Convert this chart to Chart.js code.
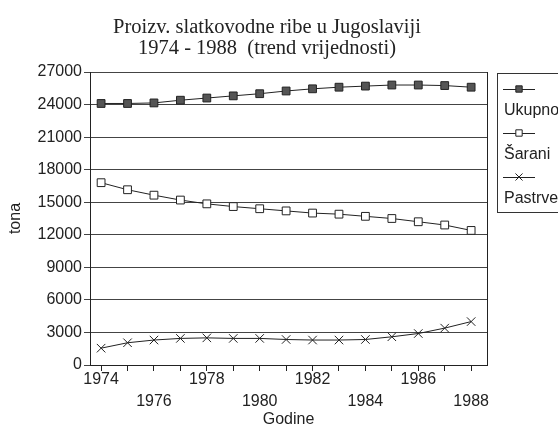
<!DOCTYPE html>
<html>
<head>
<meta charset="utf-8">
<script src="https://cdn.jsdelivr.net/npm/chart.js@4.4.0/dist/chart.umd.min.js"></script>
<style>
  html, body { margin: 0; padding: 0; background: #fff; }
  #wrap { width: 558px; height: 428px; }
</style>
</head>
<body>
<div id="wrap"><canvas id="fishChart" width="558" height="428"></canvas></div>
<script>
// years along the x axis
const years = [1974, 1975, 1976, 1977, 1978, 1979, 1980, 1981, 1982, 1983, 1984, 1985, 1986, 1987, 1988];

// production in tonnes
const ukupno  = [24100, 24100, 24150, 24400, 24600, 24800, 25000, 25250, 25450, 25600, 25700, 25800, 25800, 25750, 25600];
const sarani  = [16800, 16150, 15650, 15200, 14850, 14600, 14400, 14200, 14000, 13900, 13700, 13500, 13200, 12900, 12400];
const pastrve = [1550, 2050, 2300, 2450, 2500, 2450, 2450, 2350, 2300, 2300, 2350, 2600, 2900, 3400, 4000];

const seriesNames = ['Ukupno', 'Šarani', 'Pastrve'];
const yTicks = [0, 3000, 6000, 9000, 12000, 15000, 18000, 21000, 24000, 27000];
const titleLines = ['Proizv. slatkovodne ribe u Jugoslaviji', '1974 - 1988  (trend vrijednosti)'];

const SANS = '"Liberation Sans", Arial, sans-serif';
const INK = '#222';

const toPoints = function (values) {
  return years.map((yr, i) => ({ x: yr, y: values[i] }));
};

/**
 * Two line serif heading, a bit left of the plot centre like the scan.
 * */
const headingPlugin = {
  id: 'heading',
  afterDraw(chart) {
    const ctx = chart.ctx;
    ctx.save();
    ctx.font = '20.5px "Liberation Serif", "Times New Roman", serif';
    ctx.fillStyle = INK;
    ctx.textAlign = 'center';
    ctx.textBaseline = 'alphabetic';
    titleLines.forEach((line, i) => ctx.fillText(line, 267, 33 + i * 21));
    ctx.restore();
  }
};

/**
 * Right side of the plot frame (top comes from the 27000 grid line).
 * */
const framePlugin = {
  id: 'frame',
  afterDraw(chart) {
    const { ctx, chartArea } = chart;
    ctx.save();
    ctx.strokeStyle = INK;
    ctx.lineWidth = 1;
    ctx.beginPath();
    ctx.moveTo(chartArea.right + 0.5, chartArea.top);
    ctx.lineTo(chartArea.right + 0.5, chartArea.bottom);
    ctx.stroke();
    ctx.restore();
  }
};

/**
 * Boxed legend with the sample line above each label.
 * */
const stackedLegendPlugin = {
  id: 'stackedLegend',
  afterDraw(chart) {
    const ctx = chart.ctx;
    const left = chart.chartArea.right + 10;
    const top = chart.chartArea.top + 1;
    ctx.save();
    ctx.strokeStyle = '#333';
    ctx.lineWidth = 1;
    ctx.strokeRect(left + 0.5, top + 0.5, 90, 139);

    chart.data.datasets.forEach((ds, i) => {
      const my = top + 16 + i * 44;
      ctx.strokeStyle = ds.borderColor;
      ctx.lineWidth = 1;
      ctx.beginPath();
      ctx.moveTo(left + 6, my + 0.5);
      ctx.lineTo(left + 38, my + 0.5);
      ctx.stroke();

      ctx.fillStyle = ds.pointBackgroundColor;
      ctx.strokeStyle = ds.pointBorderColor;
      ctx.lineWidth = ds.pointBorderWidth;
      Chart.helpers.drawPoint(ctx, {
        pointStyle: ds.pointStyle,
        rotation: 0,
        radius: ds.pointRadius - 1,
        borderWidth: ds.pointBorderWidth
      }, left + 22, my);

      ctx.fillStyle = INK;
      ctx.font = '16px ' + SANS;
      ctx.textAlign = 'left';
      ctx.textBaseline = 'middle';
      ctx.fillText(ds.label, left + 7, my + 22);
    });
    ctx.restore();
  }
};

const makeDataset = function (label, values, style, fill, radius) {
  return {
    label: label,
    data: toPoints(values),
    borderColor: INK,
    borderWidth: 1,
    tension: 0,
    pointStyle: style,
    pointRadius: radius,
    pointBackgroundColor: fill,
    pointBorderColor: INK,
    pointBorderWidth: 1
  };
};

const fishChart = new Chart(document.getElementById('fishChart'), {
  type: 'line',
  data: {
    datasets: [
      makeDataset(seriesNames[0], ukupno, 'rect', '#555', 5.5),
      makeDataset(seriesNames[1], sarani, 'rect', '#fff', 5.5),
      makeDataset(seriesNames[2], pastrve, 'crossRot', '#fff', 6)
    ]
  },
  options: {
    responsive: false,
    animation: false,
    devicePixelRatio: 1,
    layout: { padding: { top: 72, right: 71, bottom: 0, left: 0 } },
    plugins: {
      legend: { display: false },
      title: { display: false },
      tooltip: { enabled: false }
    },
    scales: {
      x: {
        type: 'linear',
        min: years[0] - 0.42,
        max: years[years.length - 1] + 0.6,
        afterBuildTicks: (scale) => {
          scale.ticks = years.map(v => ({ value: v }));
        },
        afterFit: (scale) => { scale.height = 63; },
        ticks: {
          autoSkip: false,
          maxRotation: 0,
          padding: -2,
          color: INK,
          font: { family: SANS, size: 16, lineHeight: 1.375 },
          callback: (value) => {
            const step = value - years[0];
            if (step % 4 === 0) return [String(value)];
            if (step % 2 === 0) return ['', String(value)];
            return '';
          }
        },
        grid: {
          drawOnChartArea: false,
          drawTicks: true,
          tickLength: 6,
          color: INK
        },
        border: { display: true, color: INK, width: 1 },
        title: {
          display: true,
          text: 'Godine',
          color: INK,
          font: { family: SANS, size: 16, lineHeight: 1 },
          padding: { top: 0, bottom: 0 }
        }
      },
      y: {
        min: yTicks[0],
        max: yTicks[yTicks.length - 1],
        afterBuildTicks: (scale) => {
          scale.ticks = yTicks.map(v => ({ value: v }));
        },
        afterFit: (scale) => { scale.width = 90; },
        ticks: {
          padding: 2,
          color: INK,
          font: { family: SANS, size: 16 },
          callback: (value) => String(value)
        },
        grid: {
          color: '#444',
          lineWidth: 1,
          tickLength: 6
        },
        border: { display: true, color: INK, width: 1 },
        title: {
          display: true,
          text: 'tona',
          color: INK,
          font: { family: SANS, size: 16, lineHeight: 1.2 },
          padding: { top: 6, bottom: 0 }
        }
      }
    }
  },
  plugins: [headingPlugin, framePlugin, stackedLegendPlugin]
});
</script>
</body>
</html>
